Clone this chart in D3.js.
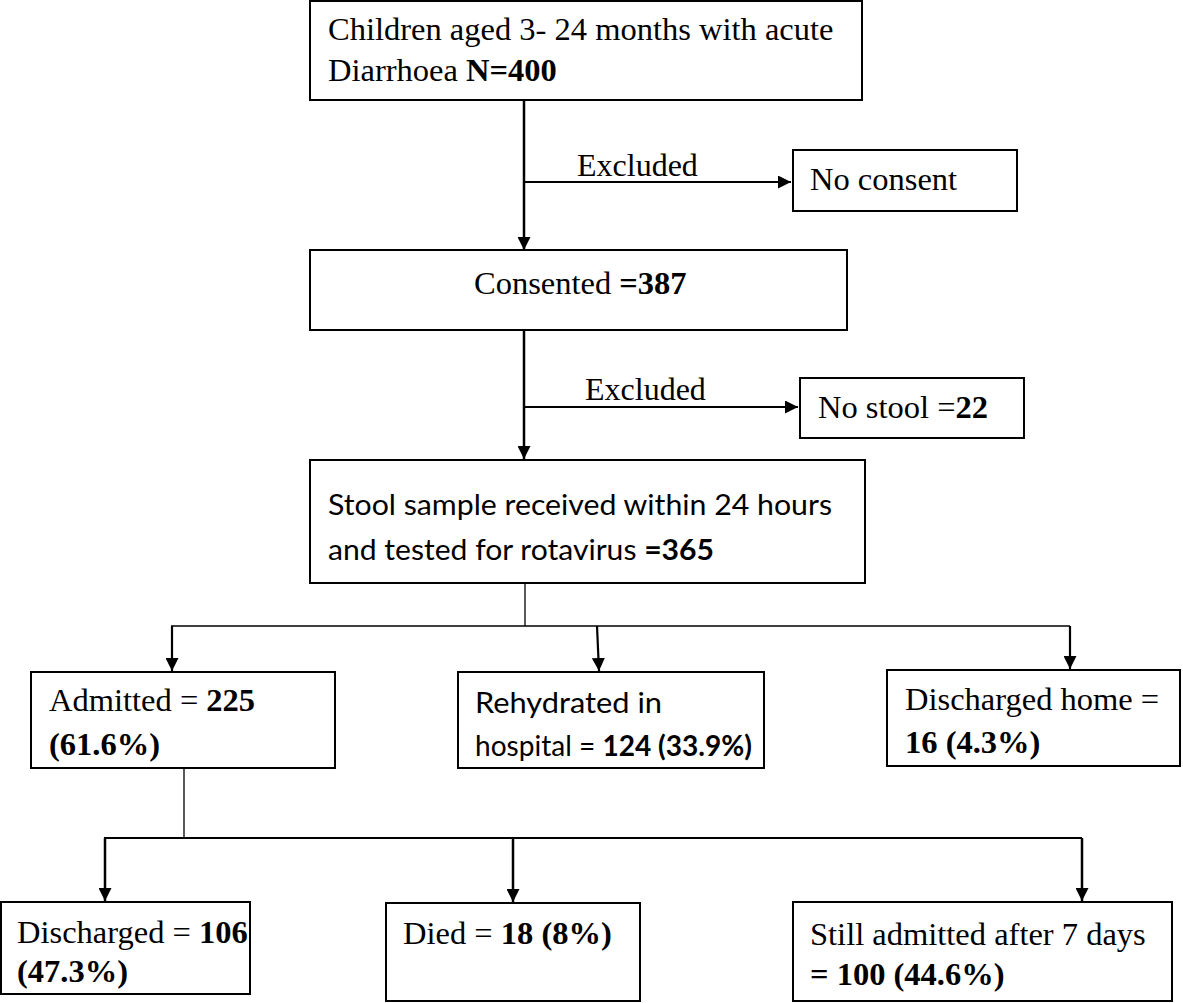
<!DOCTYPE html>
<html>
<head>
<meta charset="utf-8">
<script src="https://cdn.jsdelivr.net/npm/d3@7"></script>
<style>
  body { margin: 0; background: #fff; }
  svg { display: block; }
</style>
</head>
<body>
<div id="chart"></div>
<script>
// flow data
const mainSteps = ["Children aged 3- 24 months with acute", "Consented", "Stool sample received within 24 hours"];
const mainCounts = ["N=400", "=387", "=365"];
const exclusionLabels = ["Excluded", "Excluded"];
const exclusionReasons = ["No consent", "No stool"];
const exclusionCounts = [null, 22];
const outcomes = ["Admitted", "Rehydrated in", "Discharged home"];
const outcomeCounts = [225, 124, 16];
const outcomePct = ["61.6%", "33.9%", "4.3%"];
const admittedOutcomes = ["Discharged", "Died", "Still admitted after 7 days"];
const admittedCounts = [106, 18, 100];
const admittedPct = ["47.3%", "8%", "44.6%"];

const serif = "'Liberation Serif', 'Times New Roman', serif";
const sans = "Lato, 'Noto Sans', sans-serif";

// each node: box + text lines (segments [text, bold])
const nodes = [
    {id: "start", box: [310, 1, 552, 99], font: serif, x: 328, ys: [40, 81],
        lines: [[[mainSteps[0], false]], [["Diarrhoea ", false], [mainCounts[0], true]]]},
    {id: "noConsent", box: [793, 150, 224, 61], font: serif, x: 810, ys: [190],
        lines: [[[exclusionReasons[0], false]]]},
    {id: "consented", box: [310, 250, 537, 80], font: serif, x: 474, ys: [294],
        lines: [[[mainSteps[1] + " ", false], [mainCounts[1], true]]]},
    {id: "noStool", box: [800, 378, 224, 60], font: serif, x: 818, ys: [418],
        lines: [[[exclusionReasons[1] + " =", false], [String(exclusionCounts[1]), true]]]},
    {id: "stool", box: [310, 460, 555, 123], font: sans, x: 328, ys: [515, 560], fit: [504, 386],
        lines: [[[mainSteps[2], false]], [["and tested for rotavirus ", false], [mainCounts[2], true]]]},
    {id: "admitted", box: [31, 672, 304, 96], font: serif, x: 49, ys: [711, 755],
        lines: [[[outcomes[0] + " = ", false], [String(outcomeCounts[0]), true]], [["(" + outcomePct[0] + ")", true]]]},
    {id: "rehydrated", box: [458, 672, 306, 96], font: sans, x: 475, ys: [713, 756], fit: [187, 277],
        lines: [[[outcomes[1], false]], [["hospital = ", false], [outcomeCounts[1] + " (" + outcomePct[1] + ")", true]]]},
    {id: "home", box: [887, 670, 293, 96], font: serif, x: 905, ys: [710, 753],
        lines: [[[outcomes[2] + " =", false]], [[outcomeCounts[2] + " (" + outcomePct[2] + ")", true]]]},
    {id: "discharged", box: [1, 902, 249, 92], font: serif, x: 17, ys: [943, 982],
        lines: [[[admittedOutcomes[0] + " = ", false], [String(admittedCounts[0]), true]], [["(" + admittedPct[0] + ")", true]]]},
    {id: "died", box: [386, 903, 254, 98], font: serif, x: 403, ys: [944],
        lines: [[[admittedOutcomes[1] + " = ", false], [admittedCounts[1] + " (" + admittedPct[1] + ")", true]]]},
    {id: "still", box: [793, 902, 379, 99], font: serif, x: 810, ys: [945, 985],
        lines: [[[admittedOutcomes[2], false]], [["= " + admittedCounts[2] + " (" + admittedPct[2] + ")", true]]]}
];

// connectors: [x1, y1, x2, y2, width, arrow]
const links = [
    [524, 100, 524, 250, 2.5, true],
    [524, 182, 791, 182, 2, true],
    [524, 330, 524, 459, 2.5, true],
    [524, 407, 798, 407, 2, true],
    [525, 583, 525, 626, 1.3, false],
    [171, 626, 1070, 626, 1.6, false],
    [172, 626, 172, 671, 2.2, true],
    [597, 626, 599, 671, 2.2, true],
    [1070, 626, 1070, 669, 2.2, true],
    [184, 768, 184, 838, 1.3, false],
    [104, 838, 1082, 838, 1.8, false],
    [105, 838, 105, 901, 2.5, true],
    [513, 838, 513, 902, 2.5, true],
    [1082, 838, 1082, 901, 2.5, true]
];

const excludedText = [[577, 176], [585, 400]];

const width = 1183, height = 1003;

const svg = d3.select("#chart").append("svg")
    .attr("width", width)
    .attr("height", height);

svg.append("defs").append("marker")
    .attr("id", "arrow")
    .attr("viewBox", "0 0 10 10")
    .attr("refX", 10)
    .attr("refY", 5)
    .attr("markerUnits", "userSpaceOnUse")
    .attr("markerWidth", 13)
    .attr("markerHeight", 13)
    .attr("orient", "auto")
    .append("path")
    .attr("d", "M0,0 L10,5 L0,10 Z")
    .attr("fill", "#000");

svg.selectAll(".link")
    .data(links)
    .enter().append("line")
    .attr("class", "link")
    .attr("x1", d => d[0]).attr("y1", d => d[1])
    .attr("x2", d => d[2]).attr("y2", d => d[3])
    .attr("stroke", "#000")
    .attr("stroke-width", d => d[4])
    .attr("marker-end", d => d[5] ? "url(#arrow)" : null);

svg.selectAll(".box")
    .data(nodes)
    .enter().append("rect")
    .attr("class", "box")
    .attr("x", d => d.box[0]).attr("y", d => d.box[1])
    .attr("width", d => d.box[2]).attr("height", d => d.box[3])
    .attr("fill", "#fff")
    .attr("stroke", "#000")
    .attr("stroke-width", 2);

nodes.forEach(n => {
    n.lines.forEach((segs, i) => {
        let t = svg.append("text")
            .attr("x", n.x)
            .attr("y", n.ys[i])
            .attr("font-family", n.font)
            .attr("font-size", n.font === serif ? 32.5 : 28)
            .attr("fill", "#000");
        segs.forEach(s => {
            t.append("tspan")
                .attr("font-weight", s[1] ? "bold" : "normal")
                .attr("xml:space", "preserve")
                .text(s[0]);
        });
        if (n.fit) {
            t.attr("textLength", n.fit[i]).attr("lengthAdjust", "spacingAndGlyphs");
        }
    });
});

svg.selectAll(".excl")
    .data(exclusionLabels)
    .enter().append("text")
    .attr("class", "excl")
    .attr("x", (d, i) => excludedText[i][0])
    .attr("y", (d, i) => excludedText[i][1])
    .attr("font-family", serif)
    .attr("font-size", 32)
    .text(d => d);
</script>
</body>
</html>
